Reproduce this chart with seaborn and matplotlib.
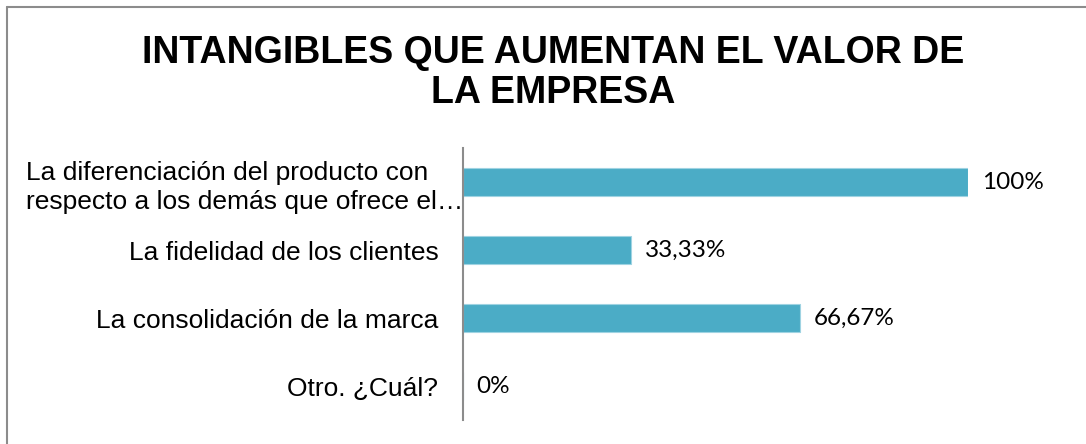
"""
Horizontal bar chart: intangibles that increase company value (survey shares).
"""

import matplotlib.pyplot as plt
import pandas as pd
import seaborn as sns
from matplotlib.lines import Line2D
from matplotlib.transforms import ScaledTranslation

TITLE = "INTANGIBLES QUE AUMENTAN EL VALOR DE\nLA EMPRESA"
CATEGORIES = [
    "La diferenciación del producto con\nrespecto a los demás que ofrece el…",
    "La fidelidad de los clientes",
    "La consolidación de la marca",
    "Otro. ¿Cuál?",
]
VALUES = [100.0, 33.33, 66.67, 0.0]
VALUE_LABELS = ["100%", "33,33%", "66,67%", "0%"]

BAR_COLOR = "#4BACC6"


def main():
    sns.set_style("white")
    plt.rcParams["font.family"] = ["Liberation Sans", "DejaVu Sans"]
    plt.rcParams["text.color"] = "black"
    plt.rcParams["ytick.color"] = "black"

    df = pd.DataFrame({"categoria": CATEGORIES, "valor": VALUES})

    fig = plt.figure(figsize=(10.86, 4.44), dpi=100)
    ax = fig.add_axes([462.7 / 1086, 24 / 444, (968 - 462.7) / 1086, 272 / 444])

    sns.barplot(data=df, x="valor", y="categoria", color=BAR_COLOR, width=0.4,
                saturation=1, edgecolor="#9fd3e2", linewidth=0.8, ax=ax)

    ax.set_xlim(0, 100)
    ax.set_ylim(3.5, -0.5)
    ax.set_xlabel("")
    ax.set_ylabel("")
    ax.set_xticks([])
    ax.tick_params(axis="y", length=0, pad=17.5, labelsize=19, labelcolor="black")
    for side in ["top", "right", "bottom"]:
        ax.spines[side].set_visible(False)
    ax.spines["left"].set_color("#8c8c8c")
    ax.spines["left"].set_linewidth(1.5)

    fig.canvas.draw()
    for k, tick in enumerate(ax.yaxis.get_major_ticks()):
        tick.label1.set_multialignment("left")
        tick.label1.set_linespacing(1.3)
        if k == 0:
            # long wrapped label runs right up to the axis line, as in the original
            tick.label1.set_transform(tick.label1.get_transform()
                                      + ScaledTranslation(0.245, 0, fig.dpi_scale_trans))

    for i, (v, txt) in enumerate(zip(VALUES, VALUE_LABELS)):
        ax.annotate(txt, xy=(v, i), xytext=(10, 0), textcoords="offset points",
                    ha="left", va="center", fontsize=17.5, family=["Lato", "DejaVu Sans"],
                    color="black", annotation_clip=False)

    fig.text(0.509, 1 - 35 / 444, TITLE, ha="center", va="top", fontsize=27,
             fontweight="bold", linespacing=1.15, color="black")

    # chart frame (left and top edges visible in the crop)
    fig.add_artist(Line2D([7 / 1086, 7 / 1086], [0, 1 - 7 / 444],
                          transform=fig.transFigure, color="#8c8c8c", lw=1.5))
    fig.add_artist(Line2D([7 / 1086, 1], [1 - 7 / 444, 1 - 7 / 444],
                          transform=fig.transFigure, color="#8c8c8c", lw=1.5))

    fig.savefig("out.png", dpi=100)
    plt.close(fig)


if __name__ == "__main__":
    main()
